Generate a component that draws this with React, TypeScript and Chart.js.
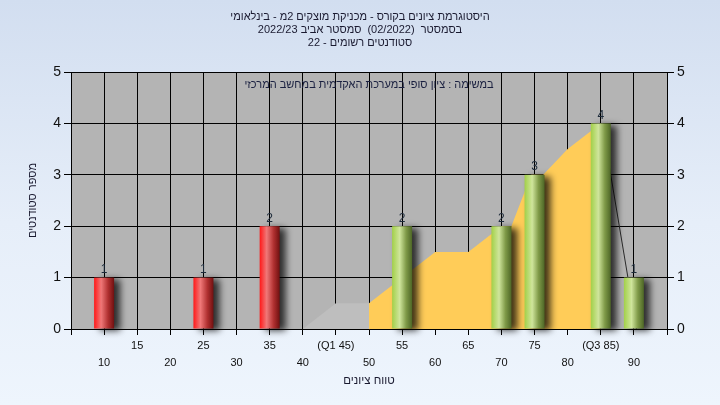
import React, { useEffect, useRef } from 'react';
import { Chart, registerables } from 'chart.js';

Chart.register(...registerables);

const titleLines = [
  'היסטוגרמת ציונים בקורס - מכניקת מוצקים 2מ - בינלאומי',
  'בסמסטר  (02/2022)  סמסטר אביב 2022/23',
  'סטודנטים רשומים - 22',
];
const innerNote = 'במשימה : ציון סופי במערכת האקדמית במחשב המרכזי';
const xTitle = 'טווח ציונים';
const yTitle = 'מספר סטודנטים';

// histogram bars
const redX = [10, 25, 35];
const redY = [1, 1, 2];
const greenX = [55, 70, 75, 85, 90];
const greenY = [2, 2, 3, 4, 1];

// background areas
const grayAreaX = [40, 45, 50];
const grayAreaY = [0, 0.5, 0.5];
const orangeAreaX = [50, 60, 65, 70, 71.5, 74.5, 76.3, 80, 85];
const orangeAreaY = [0.5, 1.5, 1.5, 2, 2, 3, 3, 3.5, 4];
const lineX = [85.2, 90.4];
const lineY = [4, 0];

// tick labels
const specialTicks: Record<number, string> = { 45: '(Q1 45)', 85: '(Q3 85)' };

const FONT = "'Liberation Sans', 'DejaVu Sans', Arial, sans-serif";

const pts = (xs: number[], ys: number[]) => xs.map((x, i) => ({ x, y: ys[i] }));

const stops: Record<string, [number, string][]> = {
  red: [
    [0, '#ff1818'],
    [0.35, '#f07878'],
    [0.7, '#b03030'],
    [1, '#701010'],
  ],
  green: [
    [0, '#a2d048'],
    [0.38, '#cfe59c'],
    [0.7, '#7f9a48'],
    [1, '#4d6626'],
  ],
};

const bgPlugin = {
  id: 'plotBg',
  beforeDraw(chart: any) {
    const { ctx, chartArea: a } = chart;
    ctx.save();
    ctx.fillStyle = '#b4b4b4';
    ctx.fillRect(a.left, a.top, a.right - a.left, a.bottom - a.top);
    ctx.restore();
  },
};

const barPlugin = {
  id: 'barStyle',
  beforeDatasetDraw(chart: any, args: any) {
    const ds = chart.data.datasets[args.index];
    if (ds.type !== 'bar') return;
    const ctx = chart.ctx;
    const meta = chart.getDatasetMeta(args.index);
    const s = stops[ds.kind];
    meta.data.forEach((el: any) => {
      const half = el.width / 2;
      const left = el.x - half;
      const top = Math.min(el.y, el.base);
      const h = Math.abs(el.base - el.y);
      const g = ctx.createLinearGradient(left, 0, left + el.width, 0);
      s.forEach(([o, c]) => g.addColorStop(o, c));
      ctx.save();
      ctx.shadowColor = 'rgba(0,0,0,0.75)';
      ctx.shadowBlur = 7;
      ctx.shadowOffsetX = 6;
      ctx.shadowOffsetY = 2;
      ctx.fillStyle = g;
      ctx.fillRect(left, top, el.width, h);
      ctx.restore();
    });
    return false;
  },
};

const textPlugin = {
  id: 'texts',
  afterDatasetsDraw(chart: any) {
    const { ctx, chartArea: a } = chart;
    ctx.save();
    ctx.font = `12px ${FONT}`;
    ctx.fillStyle = '#1c2a3a';
    ctx.textAlign = 'center';
    ctx.textBaseline = 'bottom';
    chart.data.datasets.forEach((ds: any, i: number) => {
      if (ds.type !== 'bar') return;
      const meta = chart.getDatasetMeta(i);
      meta.data.forEach((el: any, j: number) => {
        ctx.fillText(String(ds.data[j].y), el.x, el.y - 2);
      });
    });
    ctx.font = `11px ${FONT}`;
    ctx.fillStyle = '#1a2040';
    ctx.textBaseline = 'middle';
    ctx.fillText(innerNote, (a.left + a.right) / 2, 85);
    ctx.fillStyle = '#1a1a30';
    titleLines.forEach((t, i) => ctx.fillText(t, 360, 17 + i * 13));
    ctx.restore();
  },
};

export default function App() {
  const ref = useRef<HTMLCanvasElement>(null);
  useEffect(() => {
    if (!ref.current) return;
    const chart = new Chart(ref.current, {
      type: 'bar',
      data: {
        datasets: [
          {
            type: 'bar',
            kind: 'red',
            data: pts(redX, redY),
            backgroundColor: '#e03030',
            barThickness: 20,
            grouped: false,
            borderWidth: 0,
            order: 1,
          } as any,
          {
            type: 'bar',
            kind: 'green',
            data: pts(greenX, greenY),
            backgroundColor: '#9cc850',
            barThickness: 20,
            grouped: false,
            borderWidth: 0,
            order: 1,
          } as any,
          {
            type: 'line',
            data: pts(lineX, lineY),
            borderColor: '#2a2a2a',
            borderWidth: 1,
            pointRadius: 0,
            fill: false,
            order: 2,
          } as any,
          {
            type: 'line',
            data: pts(orangeAreaX, orangeAreaY),
            borderWidth: 0,
            borderColor: 'rgba(0,0,0,0)',
            backgroundColor: '#ffcc58',
            pointRadius: 0,
            fill: 'origin',
            tension: 0,
            order: 3,
          } as any,
          {
            type: 'line',
            data: pts(grayAreaX, grayAreaY),
            borderWidth: 0,
            borderColor: 'rgba(0,0,0,0)',
            backgroundColor: '#bebebe',
            pointRadius: 0,
            fill: 'origin',
            tension: 0,
            order: 3,
          } as any,
        ],
      },
      options: {
        animation: false,
        responsive: true,
        maintainAspectRatio: false,
        layout: { padding: { top: 72, left: 0, right: 0, bottom: 0 } },
        plugins: { legend: { display: false }, tooltip: { enabled: false }, title: { display: false } },
        scales: {
          x: {
            type: 'linear',
            min: 5,
            max: 95,
            offset: false,
            afterFit: (s: any) => { s.height = 76; },
            ticks: {
              stepSize: 5,
              autoSkip: false,
              maxRotation: 0,
              padding: 2,
              color: '#111',
              font: { family: FONT, size: 11, lineHeight: '17px' },
              callback: (v: any) => {
                const n = Number(v);
                if (n <= 5 || n >= 95) return '';
                const lbl = specialTicks[n] ?? String(n);
                return n % 10 === 0 ? ['', lbl] : [lbl, ''];
              },
            },
            grid: { offset: false, color: '#000', lineWidth: 1, tickLength: 6, tickColor: '#000' },
            border: { color: '#000' },
            title: {
              display: true,
              text: xTitle,
              color: '#1a1a30',
              font: { family: FONT, size: 11.5 },
              padding: { bottom: 17, top: 0 },
            },
          },
          y: {
            position: 'left',
            min: 0,
            max: 5,
            afterFit: (s: any) => { s.width = 71; },
            ticks: { stepSize: 1, padding: 3, color: '#111', font: { family: FONT, size: 14 } },
            grid: { color: '#000', lineWidth: 1, tickLength: 7, tickColor: '#000' },
            border: { color: '#000' },
            title: {
              display: true,
              text: yTitle,
              color: '#1a1a30',
              font: { family: FONT, size: 11 },
              padding: { top: 26, bottom: 0 },
            },
          },
          y2: {
            position: 'right',
            min: 0,
            max: 5,
            afterFit: (s: any) => { s.width = 53; },
            ticks: { stepSize: 1, padding: 3, color: '#111', font: { family: FONT, size: 14 } },
            grid: { drawOnChartArea: false, color: '#000', tickLength: 7, tickColor: '#000' },
            border: { color: '#000' },
          },
        },
      },
      plugins: [bgPlugin, barPlugin, textPlugin],
    } as any);
    return () => chart.destroy();
  }, []);

  return (
    <div
      style={{
        position: 'fixed',
        left: 0,
        top: 0,
        width: 720,
        height: 405,
        background: 'linear-gradient(to bottom, #d2def0 0%, #e6eef9 55%, #eef5fd 100%)',
      }}
    >
      <canvas ref={ref} />
    </div>
  );
}
